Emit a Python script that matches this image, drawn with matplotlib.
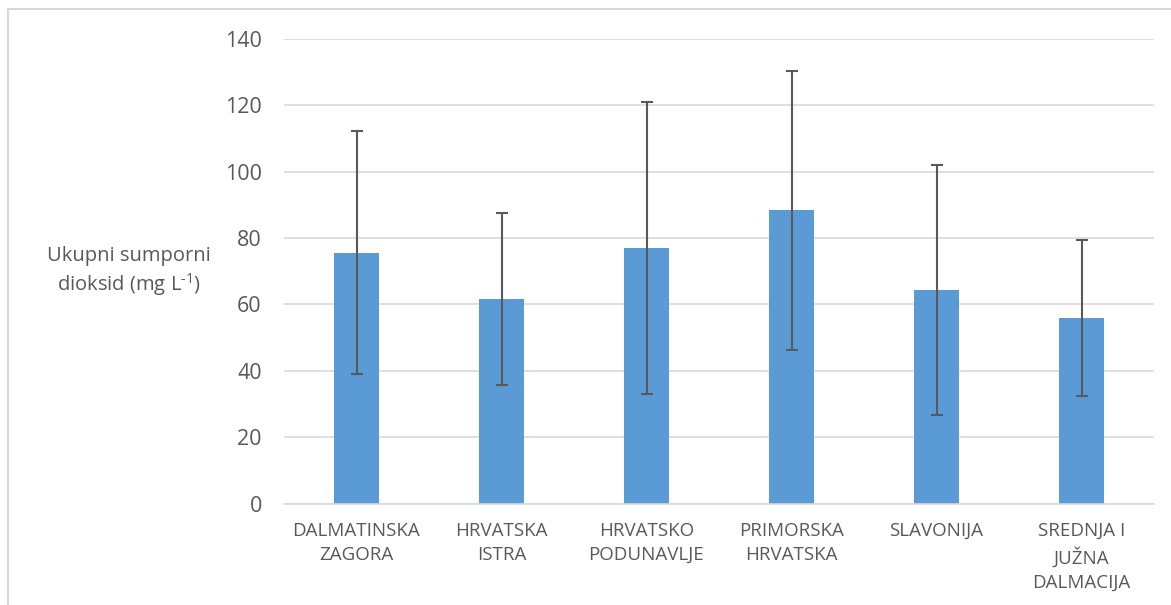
import matplotlib
matplotlib.use("Agg")
import matplotlib.pyplot as plt
from matplotlib.patches import Rectangle

categories = ["DALMATINSKA\nZAGORA", "HRVATSKA\nISTRA", "HRVATSKO\nPODUNAVLJE",
              "PRIMORSKA\nHRVATSKA", "SLAVONIJA", "SREDNJA I\nJUŽNA\nDALMACIJA"]
means = [75.6, 61.7, 77.0, 88.4, 64.4, 55.9]
errors = [36.7, 25.9, 44.0, 42.0, 37.6, 23.6]
yticks = [0, 20, 40, 60, 80, 100, 120, 140]

plt.rcParams['font.family'] = ['Open Sans', 'DejaVu Sans']
plt.rcParams['mathtext.fontset'] = 'custom'
plt.rcParams['mathtext.rm'] = 'Open Sans'

W, H = 1171, 605
fig = plt.figure(figsize=(W/100, H/100), dpi=100)
ax = fig.add_axes([284/W, 1-503.5/H, (1154-284)/W, (503.5-39)/H])

txt = '#595959'
x = range(len(categories))
ax.bar(x, means, width=0.31, color='#5B9BD5', zorder=2)
ax.errorbar(x, means, yerr=errors, fmt='none', ecolor='#595959',
            elinewidth=1.5, capsize=4.5, capthick=1.5, zorder=3)

ax.set_xlim(-0.5, len(categories)-0.5)
ax.set_ylim(0, 140)
ax.set_yticks(yticks)
ax.set_xticks(list(x))
ax.set_xticklabels(categories, fontsize=13.5, color=txt, linespacing=1.45)
ax.tick_params(axis='x', length=0, pad=13)
ax.tick_params(axis='y', length=0, pad=16, labelsize=15.5, labelcolor=txt)
ax.grid(axis='y', color='#D9D9D9', linewidth=1.2, zorder=0)
ax.set_axisbelow(True)
for s in ['top', 'right', 'left']:
    ax.spines[s].set_visible(False)
ax.spines['bottom'].set_color('#D9D9D9')
ax.spines['bottom'].set_linewidth(1.2)

fig.text(129/W, 1-272/H, "Ukupni sumporni\ndioksid (mg L$^{\\mathregular{\u20101}}$)",
         ha='center', va='center', fontsize=14.5, color=txt, linespacing=1.3)

fig.patches.append(Rectangle((8/W, -0.1), 1.2, 1-9.5/H+0.1, transform=fig.transFigure,
                             fill=False, edgecolor='#D9D9D9', linewidth=1.5))

fig.savefig("out.png", dpi=100)
